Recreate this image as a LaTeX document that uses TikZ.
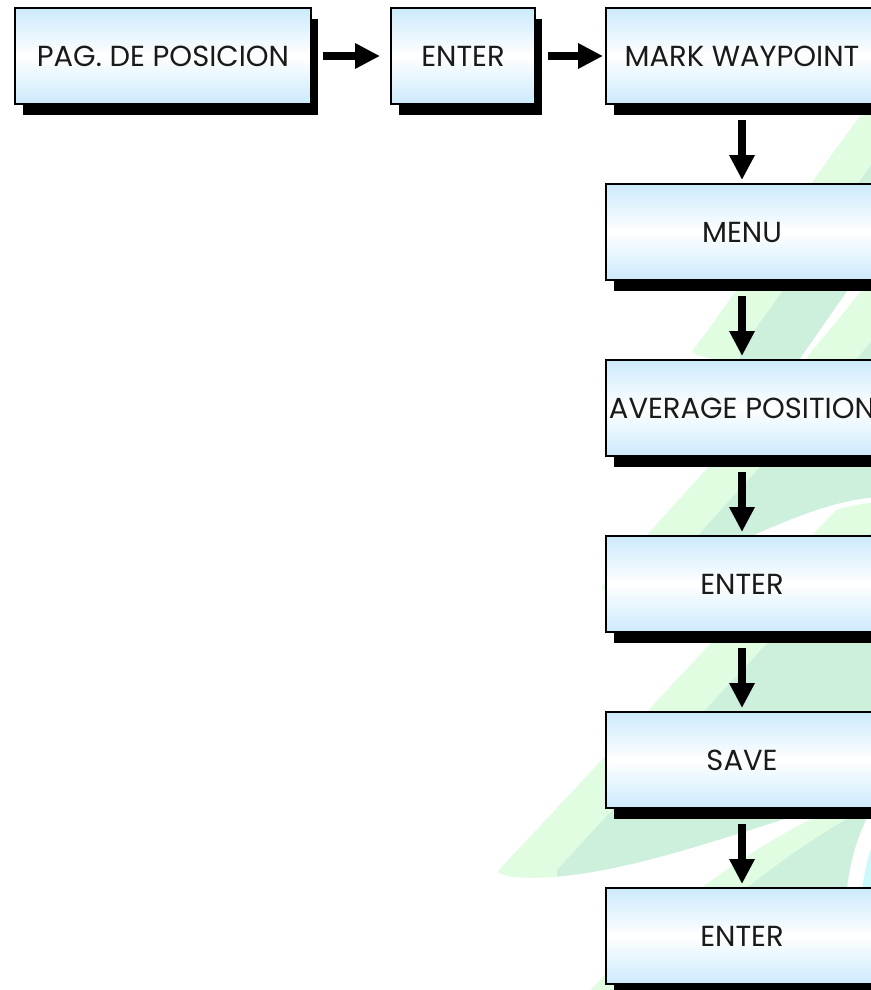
\documentclass[tikz,border=0pt]{standalone}
\usepackage{fontspec}
\setmainfont{Poppins}
\usetikzlibrary{arrows.meta,shadows}

\definecolor{boxblue}{RGB}{204,234,252}
\definecolor{leafgreen}{RGB}{224,252,225}
\definecolor{leafmint}{RGB}{205,240,221}
\definecolor{leafcyan}{RGB}{204,250,250}
\definecolor{txtblack}{RGB}{26,26,26}

\tikzset{
  stepbox/.style={rectangle, draw=black, line width=0.04cm, minimum height=1.92cm,
    top color=boxblue, bottom color=boxblue, middle color=white,
    drop shadow={shadow xshift=0.15cm, shadow yshift=-0.22cm, fill=black, opacity=1},
    text=txtblack, font=\fontsize{16.5}{19}\selectfont, inner sep=0pt},
  flow/.style={line width=0.16cm, -{Triangle[length=0.5cm,width=0.48cm]}},
  leaf/.style={fill=leafgreen, draw=white, line width=0.1cm},
}

\begin{document}
\begin{tikzpicture}[x=0.02cm, y=-0.02cm]
        \useasboundingbox (0,0) rectangle (871,990);

        % logo in the background
        \filldraw[leaf, path picture={\fill[leafmint] (557,870) .. controls (640,780) and (760,650) .. (935,465) -- (935,1000) -- (557,1000) -- cycle;}]
          (497,868) .. controls (580,780) and (700,650) .. (875,465) -- (875,795) .. controls (760,825) and (620,885) .. (520,880) .. controls (500,879) and (492,874) .. cycle;
        \filldraw[leaf, path picture={\fill[leafmint] (655,585) .. controls (735,490) and (855,370) .. (930,268) -- (930,620) -- (655,620) -- cycle;}]
          (600,585) .. controls (680,490) and (800,370) .. (875,268) -- (875,500) .. controls (800,505) and (700,570) .. (622,593) .. controls (607,597) and (597,592) .. cycle;
        \filldraw[leaf, path picture={\fill[leafmint] (740,350) .. controls (785,290) and (865,170) .. (925,92) -- (925,400) -- (740,400) -- cycle;}]
          (690,350) .. controls (735,290) and (815,170) .. (875,92) -- (875,258) .. controls (850,290) and (820,335) .. (798,366) .. controls (750,368) and (705,362) .. (694,356) .. controls (689,354) .. cycle;
        \filldraw[leaf, path picture={\fill[leafmint] (640,995) .. controls (690,930) and (770,860) .. (880,800) -- (880,995) -- cycle;}]
          (583,995) .. controls (640,930) and (720,860) .. (820,812) .. controls (840,802) and (860,795) .. (880,790) -- (880,995) -- cycle;
        \filldraw[fill=leafcyan, draw=white, line width=0.3cm] (852,995) .. controls (848,900) and (856,850) .. (880,810) -- (880,995) -- cycle;

        % boxes
        \node[stepbox, minimum width=5.92cm] (pagpos) at (163,56) {PAG. DE POSICION};
        \node[stepbox, minimum width=2.88cm] (enterA) at (463,56) {ENTER};
        \node[stepbox, minimum width=5.44cm] (mark) at (742,56) {MARK WAYPOINT};
        \node[stepbox, minimum width=5.44cm] (menu) at (742,232) {MENU};
        \node[stepbox, minimum width=5.44cm] (average) at (742,408) {\makebox[0pt]{AVERAGE POSITION}};
        \node[stepbox, minimum width=5.44cm] (enterB) at (742,584) {ENTER};
        \node[stepbox, minimum width=5.44cm] (save) at (742,760) {SAVE};
        \node[stepbox, minimum width=5.44cm] (enterC) at (742,936) {ENTER};

        % arrows
        \draw[flow] ([xshift=0.22cm]pagpos.east) -- ([xshift=-0.2cm]enterA.west);
        \draw[flow] ([xshift=0.24cm]enterA.east) -- ([xshift=-0.04cm]mark.west);
        \draw[flow] ([yshift=-0.3cm]mark.south) -- ([yshift=0.06cm]menu.north);
        \draw[flow] ([yshift=-0.3cm]menu.south) -- ([yshift=0.06cm]average.north);
        \draw[flow] ([yshift=-0.3cm]average.south) -- ([yshift=0.06cm]enterB.north);
        \draw[flow] ([yshift=-0.3cm]enterB.south) -- ([yshift=0.06cm]save.north);
        \draw[flow] ([yshift=-0.3cm]save.south) -- ([yshift=0.06cm]enterC.north);

\end{tikzpicture}
\end{document}
